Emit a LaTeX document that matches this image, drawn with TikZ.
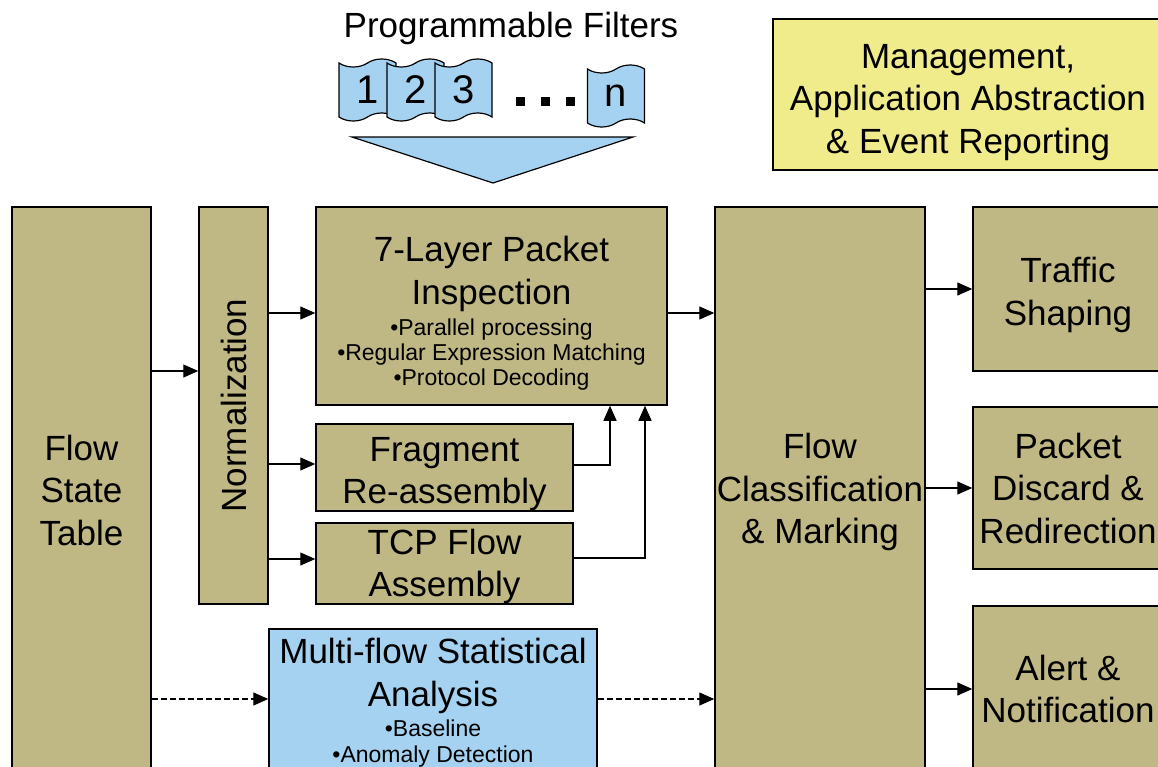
\documentclass[tikz,border=0pt]{standalone}
\usepackage{fontspec}
\setmainfont{Liberation Sans}
\usepackage{tikz}
\usetikzlibrary{arrows.meta, positioning, shapes.symbols}
\definecolor{khaki}{RGB}{191,184,132}
\definecolor{skyfill}{RGB}{164,210,240}
\definecolor{lemon}{RGB}{240,236,140}
\newcommand{\bigtxt}{\fontsize{35}{42.5}\selectfont}
\newcommand{\smalltxt}{\fontsize{23}{25}\selectfont}
\newcommand{\padtop}[1]{\rule{0pt}{#1}}
\tikzset{%
	block/.style={
		rectangle,
		draw=black,
		line width=1.5pt,
		fill=khaki,
		inner sep=0pt,
		align=center,
		font=\bigtxt
	},
	filter/.style={
		tape,
		draw=black,
		line width=1.2pt,
		fill=skyfill,
		minimum width=57pt,
		minimum height=62pt,
		tape bend height=8pt,
		inner sep=0pt,
		font=\fontsize{40}{40}\selectfont
	},
}

\begin{document}
\begin{tikzpicture}[
			x=1pt, y=-1pt,
			arr/.style={line width=1.3pt, -{Triangle[length=15pt, width=13pt]}},
			dasharr/.style={arr, dash pattern=on 6pt off 3pt}
			]
			\useasboundingbox (0,0) rectangle (1158,766);
			
			% Filters on top
			\node[font=\bigtxt] (title) at (511,28) {Programmable Filters};
			\node[filter] (f1) at (367.5,90) {1};
			\node[filter] (f2) at (415.5,90) {2};
			\node[filter] (f3) at (463.5,90) {3};
			\node[filter] (fn) at (616,96) {n};
			\foreach \dx in {520,545,570}
				\fill (\dx-4.5,97) rectangle (\dx+4.5,106);
			\draw[line width=1.2pt, fill=skyfill] (352,137) -- (633,137) -- (493,183) -- cycle;
			
			\node[block, fill=lemon, minimum width=390pt, minimum height=151pt] (mgmt) at (968,94.5)
				{\padtop{39.5pt}Management,\\Application Abstraction\\\& Event Reporting};
			
			% Main blocks
			\node[block, minimum width=139pt, minimum height=566pt] (fst) at (81.5,490) {Flow\\State\\Table};
			\node[block, minimum width=69pt, minimum height=397pt] (norm) at (233.5,405.5) {\rotatebox{90}{Normalization}};
			\node[block, minimum width=351pt, minimum height=198pt] (dpi) at (491.5,306)
				{\padtop{39.5pt}7-Layer Packet\\Inspection\\[-11.5pt]{\smalltxt •Parallel processing}\\[-17.5pt]{\smalltxt •Regular Expression Matching}\\[-17.5pt]{\smalltxt •Protocol Decoding}};
			\node[block, minimum width=257pt, minimum height=87pt] (frag) at (444.5,467.5) {\padtop{37pt}Fragment\\Re-assembly};
			\node[block, minimum width=257pt, minimum height=81pt] (tcp) at (444.5,563.5) {\padtop{31pt}TCP Flow\\Assembly};
			\node[block, fill=skyfill, minimum width=328pt, minimum height=148pt] (msa) at (433,703)
				{Multi-flow Statistical\\Analysis\\[-12pt]{\smalltxt •Baseline}\\[-16.5pt]{\smalltxt •Anomaly Detection}};
			\node[block, minimum width=210pt, minimum height=566pt] (fcm) at (820,490) {\padtop{30pt}Flow\\Classification\\\& Marking};
			\node[block, minimum width=190pt, minimum height=164pt] (ts) at (1068,289) {\padtop{37.5pt}Traffic\\Shaping};
			\node[block, minimum width=190pt, minimum height=162pt] (pdr) at (1068,488) {Packet\\Discard \&\\Redirection};
			\node[block, minimum width=190pt, minimum height=166pt] (an) at (1068,689) {Alert \&\\Notification};
			
			% Connectors
			\draw[arr] (fst.east |- 0,371) -- (norm.west |- 0,371);
			\draw[arr] (norm.east |- 0,313) -- (dpi.west |- 0,313);
			\draw[arr] (norm.east |- 0,464) -- (frag.west |- 0,464);
			\draw[arr] (norm.east |- 0,559) -- (tcp.west |- 0,559);
			\draw[arr] (frag.east |- 0,465) -| (610,0 |- dpi.south);
			\draw[arr] (tcp.east |- 0,558) -| (645,0 |- dpi.south);
			\draw[arr] (dpi.east |- 0,313) -- (fcm.west |- 0,313);
			\draw[dasharr] (fst.east |- 0,699) -- (msa.west |- 0,699);
			\draw[dasharr] (msa.east |- 0,699) -- (fcm.west |- 0,699);
			\draw[arr] (fcm.east |- ts.west) -- (ts.west);
			\draw[arr] (fcm.east |- pdr.west) -- (pdr.west);
			\draw[arr] (fcm.east |- an.west) -- (an.west);
			
		\end{tikzpicture}
\end{document}
